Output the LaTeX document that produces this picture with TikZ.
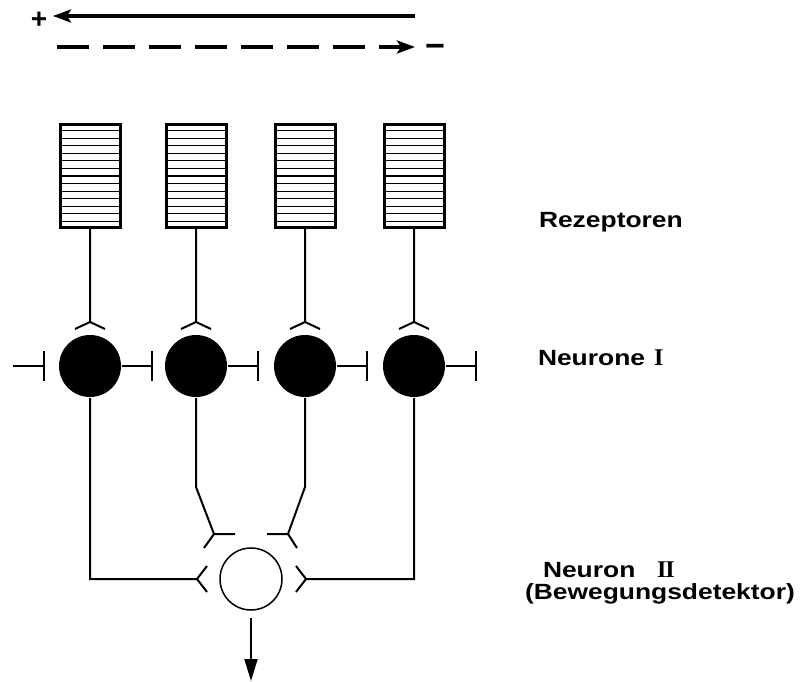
\documentclass[tikz,border=0pt]{standalone}
\usepackage{fontspec}
\setmainfont{Liberation Sans}
\newfontfamily\labelfont[FakeStretch=1.2]{Liberation Sans}
\newfontfamily\numfont{Liberation Serif}
\usetikzlibrary{arrows.meta,calc}

\begin{document}
\begin{tikzpicture}[
        x=1pt, y=-1pt,
        line width=2pt,
        receptor/.style={draw, line width=3pt, minimum width=60pt, minimum height=103pt, inner sep=0pt},
        cell/.style={circle, fill=black, minimum size=62pt, inner sep=0pt},
        detector/.style={circle, draw, line width=1.5pt, minimum size=62pt, inner sep=0pt},
        layer/.style={anchor=base west, inner sep=0pt, font=\labelfont\bfseries\fontsize{22}{26}\selectfont},
        sign/.style={inner sep=0pt, font=\bfseries\fontsize{28}{28}\selectfont},
        roman/.style={inner sep=0pt, anchor=base west, font=\numfont\bfseries\fontsize{24}{24}\selectfont}
    ]
    \useasboundingbox (0,0) rectangle (812,682);

    \coordinate (p0) at (415,16);
    \coordinate (p1) at (53,16);
    \coordinate (q0) at (57,47);
    \coordinate (q1) at (415,47);
    \draw[line width=4pt, -{Stealth[length=18pt,width=13pt,inset=4pt]}] (p0) -- (p1);
    \draw[line width=4pt, dash pattern=on 32pt off 14pt, -{Stealth[length=18pt,width=13pt,inset=4pt]}] (q0) -- (q1);
    \node[sign] (plus) at (39,20) {+};
    \node[sign, font=\bfseries\fontsize{34}{34}\selectfont] (minus) at (435,51) {−};

    \foreach \n/\x in {1/90,2/196,3/305,4/414} {
        \node[receptor] (r\n) at (\x,176) {};
        \foreach \k in {1,...,13}
            \draw[line width=1.2pt] ($(r\n.north west)!\k/14!(r\n.south west)$) -- ($(r\n.north east)!\k/14!(r\n.south east)$);
        \node[cell] (n\n) at (\x,366) {};
        \coordinate (y\n) at (\x,322);
        \draw (r\n.south) -- (y\n) (y\n) -- ++(-15,7) (y\n) -- ++(15,7);
        \coordinate (b\n) at ($(n\n.east)+(30,0)$);
        \draw (n\n.east) -- (b\n) ($(b\n)+(0,-15)$) -- ($(b\n)+(0,15)$);
    }
    \coordinate (in) at (13,366);
    \coordinate (b0) at ($(n1.west)+(-14,0)$);
    \draw (in) -- (b0) ($(b0)+(0,-15)$) -- ($(b0)+(0,15)$);

    \node[detector] (d) at (251,579) {};
    \coordinate (s1) at (197,579);
    \coordinate (s2) at (214,534);
    \coordinate (s3) at (288,534);
    \coordinate (s4) at (306,579);
    \coordinate (k2) at (196,487);
    \coordinate (k3) at (305,487);
    \draw (n1.south) |- (s1) -- ++(10,-13) (s1) -- ++(10,13);
    \draw (n2.south) -- (k2) -- (s2) -- ++(21,0) (s2) -- ++(-10,14);
    \draw (n3.south) -- (k3) -- (s3) -- ++(-21,0) (s3) -- ++(9,14);
    \draw (n4.south) |- (s4) -- ++(-10,-13) (s4) -- ++(-10,13);
    \coordinate (out) at (251,681);
    \draw[shorten <=7pt, -{Triangle[length=22pt,width=13pt]}] (d) -- (out);

    \node[layer] (tr) at (538,228) {Rezeptoren};
    \node[layer] (tn1) at (537,365) {Neurone};
    \node[roman] (i1) at (653,365) {I};
    \node[layer] (tn2) at (542,577) {Neuron};
    \node[roman] (i2) at (656,577) {I\kern-1ptI};
    \node[layer] (td) at (524,599) {(Bewegungsdetektor)};
\end{tikzpicture}
\end{document}
